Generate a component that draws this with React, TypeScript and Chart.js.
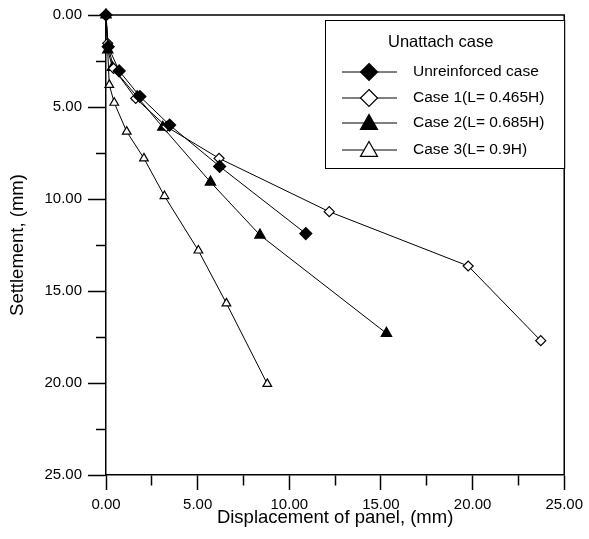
import React, { useEffect, useRef } from "react";
import { Chart, registerables } from "chart.js";

Chart.register(...registerables);

const legendTitle = "Unattach case";
const seriesNames = [
  "Unreinforced case",
  "Case 1(L= 0.465H)",
  "Case 2(L= 0.685H)",
  "Case 3(L= 0.9H)",
];

const unreinforcedX = [0, 0.12, 0.72, 1.85, 3.47, 6.2, 10.9];
const unreinforcedY = [0, 1.72, 3.04, 4.43, 5.98, 8.23, 11.88];

const case1X = [0, 0.09, 0.41, 1.62, 3.3, 6.17, 12.18, 19.76, 23.72];
const case1Y = [0, 1.54, 2.9, 4.53, 6.07, 7.79, 10.69, 13.64, 17.7];

const case2X = [0, 0.1, 0.35, 1.7, 3.1, 5.7, 8.4, 15.3];
const case2Y = [0, 1.9, 2.85, 4.44, 6.1, 9.08, 11.96, 17.3];

const case3X = [0, 0.18, 0.45, 1.13, 2.07, 3.19, 5.04, 6.57, 8.8];
const case3Y = [0, 3.8, 4.77, 6.34, 7.79, 9.84, 12.8, 15.67, 20.05];

const xTitle = "Displacement of panel, (mm)";
const yTitle = "Settlement, (mm)";

const FONT = "'Liberation Sans', Arial, sans-serif";

const zip = (xs: number[], ys: number[]) => xs.map((x, i) => ({ x, y: ys[i] }));

const frameAndLegend = {
  id: "frameAndLegend",
  afterDraw(chart: any) {
    const { ctx, chartArea } = chart;
    ctx.save();
    ctx.strokeStyle = "#000";
    ctx.lineWidth = 1.5;
    ctx.beginPath();
    ctx.moveTo(chartArea.left, chartArea.top);
    ctx.lineTo(chartArea.right, chartArea.top);
    ctx.lineTo(chartArea.right, chartArea.bottom);
    ctx.stroke();

    // legend box
    const bx = 325, by = 20, bw = chartArea.right - 325, bh = 148;
    ctx.fillStyle = "#fff";
    ctx.fillRect(bx, by, bw, bh);
    ctx.lineWidth = 1;
    ctx.strokeRect(bx + 0.5, by + 0.5, bw, bh);
    ctx.fillStyle = "#000";
    ctx.font = `16.5px ${FONT}`;
    ctx.textBaseline = "middle";
    ctx.textAlign = "left";
    ctx.fillText(legendTitle, 388, 42);
    const rows = [72, 98, 123, 150];
    chart.data.datasets.forEach((ds: any, i: number) => {
      const y = rows[i];
      ctx.strokeStyle = "#000";
      ctx.lineWidth = 1;
      ctx.beginPath();
      ctx.moveTo(342, y);
      ctx.lineTo(397, y);
      ctx.stroke();
      ctx.fillStyle = ds.pointBackgroundColor;
      ctx.strokeStyle = "#000";
      ctx.lineWidth = 1.2;
      const r = 8.5;
      const cx = 369;
      ctx.beginPath();
      if (ds.pointStyle === "rectRot") {
        ctx.moveTo(cx, y - r);
        ctx.lineTo(cx + r, y);
        ctx.lineTo(cx, y + r);
        ctx.lineTo(cx - r, y);
      } else {
        ctx.moveTo(cx, y - r);
        ctx.lineTo(cx + r, y + r * 0.75);
        ctx.lineTo(cx - r, y + r * 0.75);
      }
      ctx.closePath();
      ctx.fill();
      ctx.stroke();
      ctx.fillStyle = "#000";
      ctx.font = `15.5px ${FONT}`;
      ctx.fillText(ds.label, 413, y);
    });
    ctx.restore();
  },
};

export default function App() {
  const ref = useRef<HTMLCanvasElement | null>(null);
  useEffect(() => {
    if (!ref.current) return;
    const mk = (label: string, xs: number[], ys: number[], style: string, fill: string, r: number) => ({
      label,
      data: zip(xs, ys),
      borderColor: "#000",
      borderWidth: 1,
      pointStyle: style,
      pointRadius: r,
      pointBackgroundColor: fill,
      pointBorderColor: "#000",
      pointBorderWidth: 1.2,
      showLine: true,
      tension: 0,
      clip: false,
    });
    const minorX = (ctx: any) => (ctx.tick && ctx.tick.value % 5 !== 0 ? [10, 100] : []);
    const minorY = (ctx: any) => (ctx.tick && ctx.tick.value % 5 !== 0 ? [0, 8, 10, 100] : []);
    const chart = new Chart(ref.current, {
      type: "scatter",
      data: {
        datasets: [
          mk(seriesNames[0], unreinforcedX, unreinforcedY, "rectRot", "#000", 6),
          mk(seriesNames[1], case1X, case1Y, "rectRot", "#fff", 5),
          mk(seriesNames[2], case2X, case2Y, "triangle", "#000", 6),
          mk(seriesNames[3], case3X, case3Y, "triangle", "#fff", 5),
        ] as any,
      },
      options: {
        animation: false,
        responsive: false,
        maintainAspectRatio: false,
        layout: { padding: { top: 15, right: 21, left: 0, bottom: 0 } },
        plugins: { legend: { display: false }, tooltip: { enabled: false } },
        scales: {
          x: {
            type: "linear",
            min: 0,
            max: 25,
            afterFit: (s: any) => { s.height = 64; },
            ticks: {
              stepSize: 2.5,
              autoSkip: false,
              maxRotation: 0,
              padding: 6,
              color: "#000",
              font: { family: FONT, size: 15 },
              callback: (v: any) => (Number(v) % 5 === 0 ? Number(v).toFixed(2) : ""),
            },
            grid: {
              drawOnChartArea: false,
              drawTicks: true,
              tickLength: 15,
              tickColor: "#000",
              tickWidth: 1.5,
              tickBorderDash: minorX as any,
            },
            border: { display: true, color: "#000", width: 1.5 },
            title: {
              display: true,
              text: xTitle,
              color: "#000",
              font: { family: FONT, size: 18.5 },
              padding: { top: 0, bottom: 10 },
            },
          },
          y: {
            type: "linear",
            reverse: true,
            min: 0,
            max: 25,
            afterFit: (s: any) => { s.width = 106; },
            ticks: {
              stepSize: 2.5,
              autoSkip: false,
              padding: 6,
              color: "#000",
              font: { family: FONT, size: 15 },
              callback: (v: any) => (Number(v) % 5 === 0 ? Number(v).toFixed(2) : ""),
            },
            grid: {
              drawOnChartArea: false,
              drawTicks: true,
              tickLength: 18,
              tickColor: "#000",
              tickWidth: 1.5,
              tickBorderDash: minorY as any,
            },
            border: { display: true, color: "#000", width: 1.5 },
            title: {
              display: true,
              text: yTitle,
              color: "#000",
              font: { family: FONT, size: 18.5 },
              padding: { top: 7, bottom: 0 },
            },
          },
        },
      },
      plugins: [frameAndLegend],
    } as any);
    return () => chart.destroy();
  }, []);
  return (
    <div style={{ position: "fixed", left: 0, top: 0, width: 589, height: 539, background: "#fff" }}>
      <canvas ref={ref} width={589} height={539} style={{ width: 589, height: 539 }} />
    </div>
  );
}
